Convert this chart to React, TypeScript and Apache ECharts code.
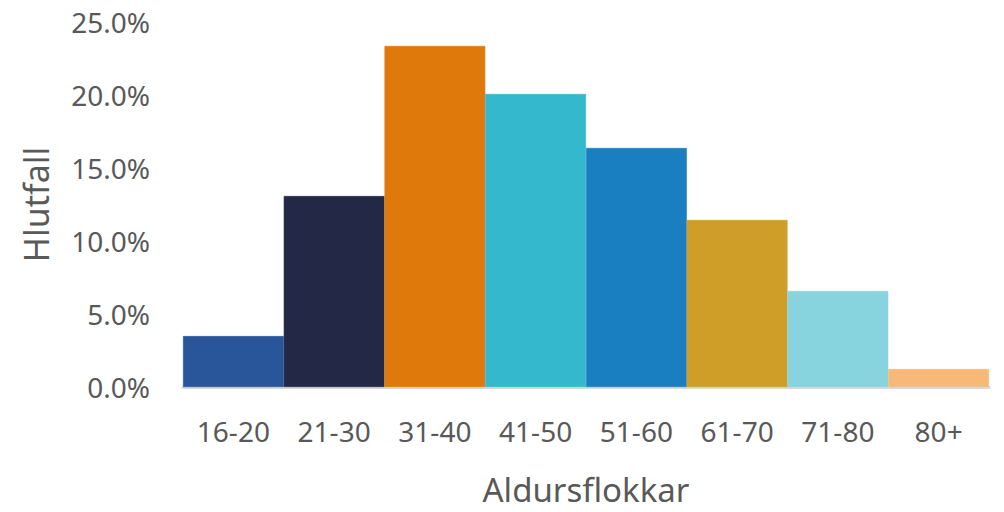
import React, { useEffect, useRef } from "react";
import * as echarts from "echarts";

const categories = ["16-20", "21-30", "31-40", "41-50", "51-60", "61-70", "71-80", "80+"];
const values = [3.49, 13.08, 23.36, 20.07, 16.37, 11.44, 6.58, 1.23];
const colors = ["#29559a", "#232846", "#df790b", "#33b8cd", "#1a7fc0", "#cf9e28", "#87d4df", "#f6b977"];
const yTicks = { min: 0, max: 25, interval: 5 };

export default function App() {
  const ref = useRef<HTMLDivElement>(null);
  useEffect(() => {
    const chart = echarts.init(ref.current!, null, { renderer: "svg" });
    const font = "Noto Sans";
    chart.setOption({
      animation: false,
      grid: { left: 183, right: 15, top: 22, bottom: 125 },
      xAxis: {
        type: "category",
        data: categories,
        name: "Aldursflokkar",
        nameLocation: "middle",
        nameGap: 86,
        nameTextStyle: { color: "#595959", fontSize: 33, fontFamily: font },
        axisLine: { show: true, lineStyle: { color: "#d9d9d9", width: 3 } },
        axisTick: { show: false },
        axisLabel: { color: "#595959", fontSize: 28, fontFamily: font, margin: 30 },
      },
      yAxis: {
        type: "value",
        min: yTicks.min,
        max: yTicks.max,
        interval: yTicks.interval,
        name: "Hlutfall",
        nameLocation: "middle",
        nameGap: 130,
        nameTextStyle: { color: "#595959", fontSize: 34, fontFamily: font },
        axisLine: { show: false },
        axisTick: { show: false },
        splitLine: { show: false },
        axisLabel: {
          color: "#595959",
          fontSize: 28,
          fontFamily: font,
          margin: 33,
          formatter: (v: number) => v.toFixed(1) + "%",
        },
      },
      series: [
        {
          type: "bar",
          barCategoryGap: "0%",
          data: values.map((v, i) => ({
            value: v,
            itemStyle: { color: colors[i], borderColor: colors[i], borderWidth: 0.6 },
          })),
        },
      ],
    });
    return () => chart.dispose();
  }, []);
  return <div ref={ref} style={{ width: 1004, height: 512, position: "absolute", left: 0, top: 0 }} />;
}
